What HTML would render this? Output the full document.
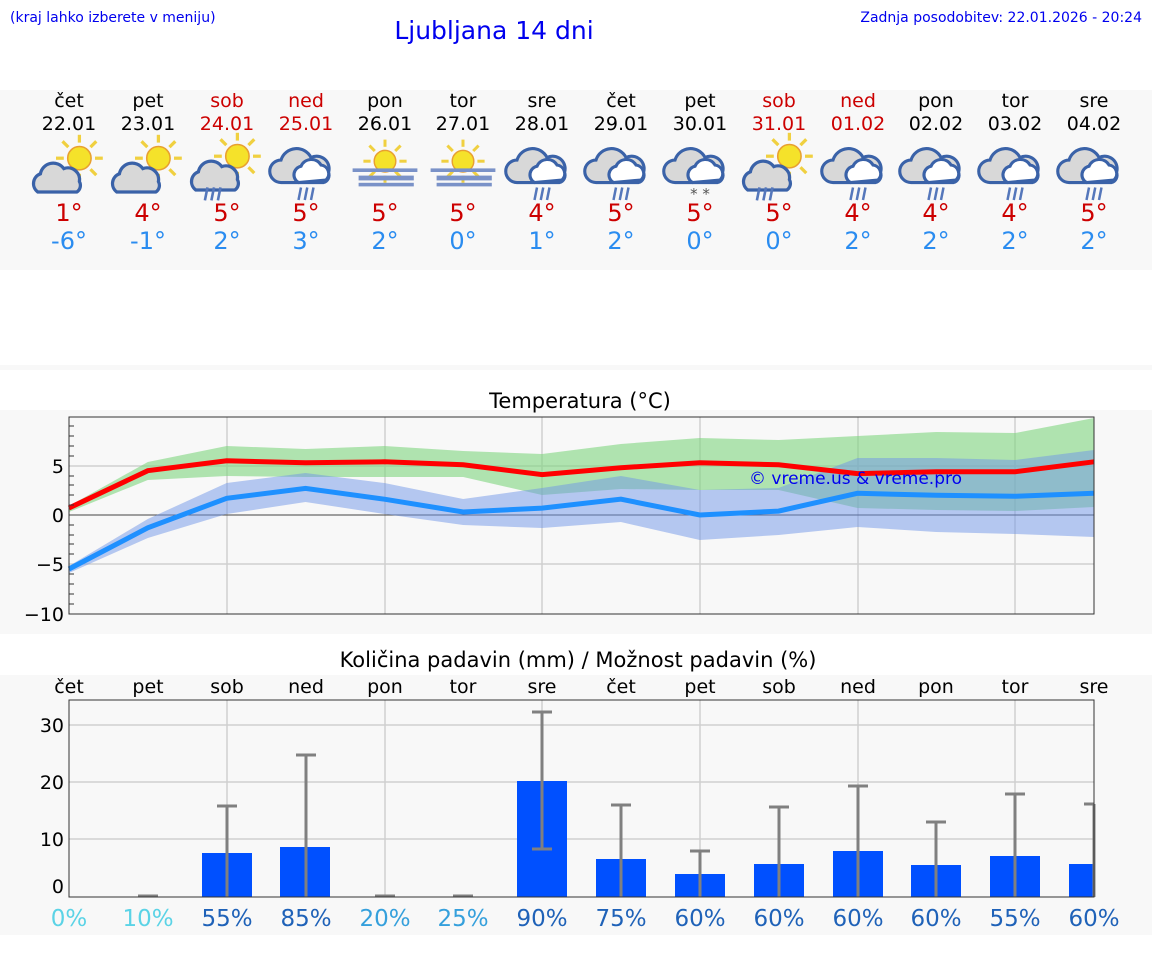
<!DOCTYPE html>
<html><head><meta charset="utf-8"><style>
html,body{margin:0;padding:0;background:#fff;}
svg{display:block;font-family:"DejaVu Sans","Liberation Sans",sans-serif;}
</style></head><body>
<svg width="1152" height="975" viewBox="0 0 1152 975" xmlns="http://www.w3.org/2000/svg">
<defs>
<g id="cloud"><path d="M-18,12 a8,8 0 0 1 2,-14 a10,10 0 0 1 18,-4 a9,9 0 0 1 12,10 a6,6 0 0 1 -2,8 z" fill="#d8d8d8" stroke="#3a62a8" stroke-width="2.5"/></g>
<g id="sun"><circle r="9" fill="#f5e22a" stroke="#e8a030" stroke-width="1.2"/><g stroke="#f0d040" stroke-width="2.5"><line x1="0" y1="-12" x2="0" y2="-18"/><line x1="0" y1="12" x2="0" y2="18"/><line x1="12" y1="0" x2="18" y2="0"/><line x1="-12" y1="0" x2="-18" y2="0"/><line x1="8.5" y1="-8.5" x2="13" y2="-13"/><line x1="-8.5" y1="-8.5" x2="-13" y2="-13"/><line x1="8.5" y1="8.5" x2="13" y2="13"/><line x1="-8.5" y1="8.5" x2="-13" y2="13"/></g></g>
<g id="rain" stroke="#5577bb" stroke-width="2"><line x1="-6" y1="0" x2="-8" y2="10"/><line x1="-1" y1="0" x2="-3" y2="10"/><line x1="4" y1="0" x2="2" y2="10"/></g>
<g id="fog" fill="#7a92c8"><rect x="-27" y="0" width="54" height="3"/><rect x="-22" y="6" width="46" height="4"/><rect x="-22" y="12" width="46" height="3"/></g>
<g id="pc"><use href="#sun" x="8" y="-6"/><use href="#cloud" x="-6" y="8"/></g>
<g id="heavy"><path d="M-20,14 a9,9 0 0 1 0,-18 a13,13 0 0 1 24,-2 a10,10 0 0 1 14,12 a6,6 0 0 1 -4,8 z" fill="#d8d8d8" stroke="#3a62a8" stroke-width="2.5"/><path d="M-6,14 a7,7 0 0 1 2,-13 a9,9 0 0 1 16,-1 a7,7 0 0 1 4,12 z" fill="#fff" stroke="#3a62a8" stroke-width="2.5"/></g>
<g id="i_pc"><use href="#pc"/></g>
<g id="i_pcr"><use href="#pc"/><use href="#rain" x="-9" y="18"/></g>
<g id="i_hr"><use href="#heavy"/><use href="#rain" x="2" y="18"/></g>
<g id="i_fog"><use href="#sun" y="-4"/><use href="#fog" y="2"/></g>
<g id="i_hs"><use href="#heavy"/><text x="0" y="27" font-size="12" text-anchor="middle" fill="#555">* *</text></g>
</defs>
<rect width="1152" height="975" fill="#fff"/>
<text x="10" y="22" font-size="14" fill="#0000ee">(kraj lahko izberete v meniju)</text>
<text x="494" y="39" font-size="25" fill="#0000ee" text-anchor="middle">Ljubljana 14 dni</text>
<text x="1142" y="22" font-size="14" fill="#0000ee" text-anchor="end">Zadnja posodobitev: 22.01.2026 - 20:24</text>
<rect x="0" y="90" width="1152" height="180" fill="#f8f8f8"/>
<rect x="0" y="365" width="1152" height="5" fill="#f8f8f8"/>
<use href="#i_pc" transform="translate(69,166) scale(1.3)"/>
<use href="#i_pc" transform="translate(148,166) scale(1.3)"/>
<use href="#i_pcr" transform="translate(227,164) scale(1.3)"/>
<use href="#i_hr" transform="translate(306,165) scale(1.25)"/>
<use href="#i_fog" transform="translate(385,166) scale(1.2)"/>
<use href="#i_fog" transform="translate(463,166) scale(1.2)"/>
<use href="#i_hr" transform="translate(542,165) scale(1.25)"/>
<use href="#i_hr" transform="translate(621,165) scale(1.25)"/>
<use href="#i_hs" transform="translate(700,165) scale(1.25)"/>
<use href="#i_pcr" transform="translate(779,164) scale(1.3)"/>
<use href="#i_hr" transform="translate(858,165) scale(1.25)"/>
<use href="#i_hr" transform="translate(936,165) scale(1.25)"/>
<use href="#i_hr" transform="translate(1015,165) scale(1.25)"/>
<use href="#i_hr" transform="translate(1094,165) scale(1.25)"/>
<g font-size="19" text-anchor="middle">
<g fill="#000"><text x="69" y="107">čet</text><text x="148" y="107">pet</text><text x="385" y="107">pon</text><text x="463" y="107">tor</text><text x="542" y="107">sre</text><text x="621" y="107">čet</text><text x="700" y="107">pet</text><text x="936" y="107">pon</text><text x="1015" y="107">tor</text><text x="1094" y="107">sre</text>
<text x="69" y="130">22.01</text><text x="148" y="130">23.01</text><text x="385" y="130">26.01</text><text x="463" y="130">27.01</text><text x="542" y="130">28.01</text><text x="621" y="130">29.01</text><text x="700" y="130">30.01</text><text x="936" y="130">02.02</text><text x="1015" y="130">03.02</text><text x="1094" y="130">04.02</text></g>
<g fill="#cc0000"><text x="227" y="107">sob</text><text x="306" y="107">ned</text><text x="779" y="107">sob</text><text x="858" y="107">ned</text>
<text x="227" y="130">24.01</text><text x="306" y="130">25.01</text><text x="779" y="130">31.01</text><text x="858" y="130">01.02</text></g>
</g>
<g font-size="24" text-anchor="middle" fill="#cc0000">
<text x="69" y="221">1°</text><text x="148" y="221">4°</text><text x="227" y="221">5°</text><text x="306" y="221">5°</text><text x="385" y="221">5°</text><text x="463" y="221">5°</text><text x="542" y="221">4°</text><text x="621" y="221">5°</text><text x="700" y="221">5°</text><text x="779" y="221">5°</text><text x="858" y="221">4°</text><text x="936" y="221">4°</text><text x="1015" y="221">4°</text><text x="1094" y="221">5°</text></g>
<g font-size="24" text-anchor="middle" fill="#2a8cf0">
<text x="69" y="249">-6°</text><text x="148" y="249">-1°</text><text x="227" y="249">2°</text><text x="306" y="249">3°</text><text x="385" y="249">2°</text><text x="463" y="249">0°</text><text x="542" y="249">1°</text><text x="621" y="249">2°</text><text x="700" y="249">0°</text><text x="779" y="249">0°</text><text x="858" y="249">2°</text><text x="936" y="249">2°</text><text x="1015" y="249">2°</text><text x="1094" y="249">2°</text></g>

<!-- Temperature chart -->
<rect x="0" y="410" width="1152" height="224" fill="#f8f8f8"/>
<text x="580" y="408" font-size="21" text-anchor="middle">Temperatura (°C)</text>
<g stroke="#d0d0d0" stroke-width="1.5"><line x1="69" y1="466" x2="1094" y2="466"/><line x1="69" y1="564" x2="1094" y2="564"/>
<line x1="227" y1="417" x2="227" y2="614"/><line x1="385" y1="417" x2="385" y2="614"/><line x1="542" y1="417" x2="542" y2="614"/><line x1="700" y1="417" x2="700" y2="614"/><line x1="858" y1="417" x2="858" y2="614"/><line x1="1015" y1="417" x2="1015" y2="614"/></g>
<line x1="69" y1="515" x2="1094" y2="515" stroke="#444" stroke-width="1"/>
<polygon fill="#7ed67e" opacity="0.6" points="69,506 147.8,462 226.7,446 305.5,449 384.4,446 463.2,451 542.1,454 620.9,444 699.8,438 778.6,440 857.5,436 936.3,432 1015.2,433 1094,418 1094,507 1015.2,511 936.3,510 857.5,508 778.6,490 699.8,490 620.9,489 542.1,495 463.2,477 384.4,477 305.5,477 226.7,476 147.8,480 69,512"/>
<polygon fill="#6f96e8" opacity="0.5" points="69,566 147.8,519 226.7,483 305.5,473 384.4,483 463.2,499 542.1,488 620.9,476 699.8,490 778.6,488 857.5,458 936.3,458 1015.2,460 1094,450 1094,537 1015.2,534 936.3,532 857.5,527 778.6,535 699.8,540 620.9,522 542.1,528 463.2,525 384.4,514 305.5,502 226.7,514 147.8,538 69,573"/>
<polyline fill="none" stroke="#ff0000" stroke-width="5" points="69,508 147.8,470.7 226.7,460.8 305.5,462.8 384.4,461.8 463.2,464.8 542.1,474.6 620.9,467.7 699.8,462.8 778.6,464.8 857.5,473.6 936.3,471.7 1015.2,471.7 1094,461.8"/>
<polyline fill="none" stroke="#1e90ff" stroke-width="5" points="69,569 147.8,527.8 226.7,498.3 305.5,488.4 384.4,499.2 463.2,512 542.1,508.1 620.9,499.2 699.8,515 778.6,511.1 857.5,493.3 936.3,495.3 1015.2,496.3 1094,493.3"/>
<text x="749" y="484" font-size="17" fill="#0000ee">© vreme.us &amp; vreme.pro</text>
<rect x="69" y="417" width="1025" height="197" fill="none" stroke="#333" stroke-width="1"/>
<g stroke="#333" stroke-width="1"><line x1="69" y1="426" x2="74" y2="426"/><line x1="69" y1="436" x2="74" y2="436"/><line x1="69" y1="446" x2="74" y2="446"/><line x1="69" y1="456" x2="74" y2="456"/><line x1="69" y1="476" x2="74" y2="476"/><line x1="69" y1="485" x2="74" y2="485"/><line x1="69" y1="495" x2="74" y2="495"/><line x1="69" y1="505" x2="74" y2="505"/><line x1="69" y1="525" x2="74" y2="525"/><line x1="69" y1="535" x2="74" y2="535"/><line x1="69" y1="544" x2="74" y2="544"/><line x1="69" y1="554" x2="74" y2="554"/><line x1="69" y1="574" x2="74" y2="574"/><line x1="69" y1="584" x2="74" y2="584"/><line x1="69" y1="594" x2="74" y2="594"/><line x1="69" y1="604" x2="74" y2="604"/></g>
<g font-size="19" text-anchor="end"><text x="64" y="473">5</text><text x="64" y="522">0</text><text x="64" y="571">−5</text><text x="64" y="621">−10</text></g>

<!-- Precip chart -->
<text x="578" y="667" font-size="21" text-anchor="middle">Količina padavin (mm) / Možnost padavin (%)</text>
<rect x="0" y="675" width="1152" height="260" fill="#f8f8f8"/>
<g font-size="19" text-anchor="middle"><text x="69" y="693">čet</text><text x="148" y="693">pet</text><text x="227" y="693">sob</text><text x="306" y="693">ned</text><text x="385" y="693">pon</text><text x="463" y="693">tor</text><text x="542" y="693">sre</text><text x="621" y="693">čet</text><text x="700" y="693">pet</text><text x="779" y="693">sob</text><text x="858" y="693">ned</text><text x="936" y="693">pon</text><text x="1015" y="693">tor</text><text x="1094" y="693">sre</text></g>
<g stroke="#d0d0d0" stroke-width="1.5"><line x1="69" y1="725" x2="1094" y2="725"/><line x1="69" y1="782" x2="1094" y2="782"/><line x1="69" y1="839" x2="1094" y2="839"/>
<line x1="227" y1="700" x2="227" y2="897"/><line x1="385" y1="700" x2="385" y2="897"/><line x1="542" y1="700" x2="542" y2="897"/><line x1="700" y1="700" x2="700" y2="897"/><line x1="858" y1="700" x2="858" y2="897"/><line x1="1015" y1="700" x2="1015" y2="897"/></g>
<g fill="#0050ff">
<rect x="202" y="853" width="50" height="44"/><rect x="280" y="847" width="50" height="50"/><rect x="517" y="781" width="50" height="116"/><rect x="596" y="859" width="50" height="38"/><rect x="675" y="874" width="50" height="23"/><rect x="754" y="864" width="50" height="33"/><rect x="833" y="851" width="50" height="46"/><rect x="911" y="865" width="50" height="32"/><rect x="990" y="856" width="50" height="41"/><rect x="1069" y="864" width="25" height="33"/></g>
<g stroke="#808080" stroke-width="3">
<line x1="227" y1="806" x2="227" y2="897"/><line x1="217" y1="806" x2="237" y2="806"/>
<line x1="306" y1="755" x2="306" y2="897"/><line x1="296" y1="755" x2="316" y2="755"/>
<line x1="542" y1="712" x2="542" y2="849"/><line x1="532" y1="712" x2="552" y2="712"/><line x1="532" y1="849" x2="552" y2="849"/>
<line x1="621" y1="805" x2="621" y2="897"/><line x1="611" y1="805" x2="631" y2="805"/>
<line x1="700" y1="851" x2="700" y2="897"/><line x1="690" y1="851" x2="710" y2="851"/>
<line x1="779" y1="807" x2="779" y2="897"/><line x1="769" y1="807" x2="789" y2="807"/>
<line x1="858" y1="786" x2="858" y2="897"/><line x1="848" y1="786" x2="868" y2="786"/>
<line x1="936" y1="822" x2="936" y2="897"/><line x1="926" y1="822" x2="946" y2="822"/>
<line x1="1015" y1="794" x2="1015" y2="897"/><line x1="1005" y1="794" x2="1025" y2="794"/>
<line x1="1094" y1="804" x2="1094" y2="897"/><line x1="1084" y1="804" x2="1094" y2="804"/>
<line x1="138" y1="896" x2="158" y2="896"/><line x1="375" y1="896" x2="395" y2="896"/><line x1="453" y1="896" x2="473" y2="896"/></g>
<rect x="69" y="700" width="1025" height="197" fill="none" stroke="#333" stroke-width="1"/>
<g font-size="19" text-anchor="end"><text x="64" y="732">30</text><text x="64" y="789">20</text><text x="64" y="846">10</text><text x="64" y="893">0</text></g>
<g font-size="23" text-anchor="middle">
<text x="69" y="926" fill="#5bd3e6">0%</text><text x="148" y="926" fill="#5bd3e6">10%</text><text x="227" y="926" fill="#1f62b8">55%</text><text x="306" y="926" fill="#1f62b8">85%</text><text x="385" y="926" fill="#35a0dc">20%</text><text x="463" y="926" fill="#35a0dc">25%</text><text x="542" y="926" fill="#1f62b8">90%</text><text x="621" y="926" fill="#1f62b8">75%</text><text x="700" y="926" fill="#1f62b8">60%</text><text x="779" y="926" fill="#1f62b8">60%</text><text x="858" y="926" fill="#1f62b8">60%</text><text x="936" y="926" fill="#1f62b8">60%</text><text x="1015" y="926" fill="#1f62b8">55%</text><text x="1094" y="926" fill="#1f62b8">60%</text></g>
</svg>
</body></html>
